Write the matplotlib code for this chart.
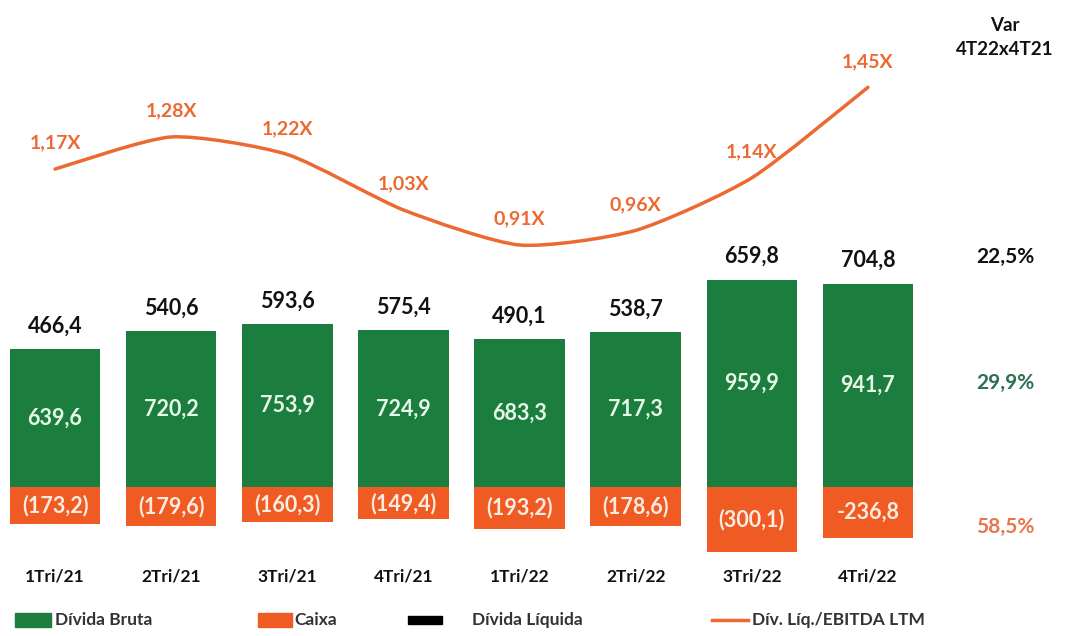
import matplotlib.pyplot as plt
from matplotlib.path import Path
from matplotlib.patches import PathPatch, Rectangle
from matplotlib.lines import Line2D

periods = ["1Tri/21", "2Tri/21", "3Tri/21", "4Tri/21", "1Tri/22", "2Tri/22", "3Tri/22", "4Tri/22"]
divida_bruta = [639.6, 720.2, 753.9, 724.9, 683.3, 717.3, 959.9, 941.7]
caixa = [-173.2, -179.6, -160.3, -149.4, -193.2, -178.6, -300.1, -236.8]
divida_liquida = [466.4, 540.6, 593.6, 575.4, 490.1, 538.7, 659.8, 704.8]
alavancagem = [1.17, 1.28, 1.22, 1.03, 0.91, 0.96, 1.14, 1.45]
var_header = "Var\n4T22x4T21"
var_liquida = "22,5%"
var_bruta = "29,9%"
var_caixa = "58,5%"

GREEN = "#1b7d3e"
ORANGE = "#ef5b23"
LINE = "#ec6a32"

plt.rcParams['font.family'] = ['Lato', 'DejaVu Sans']


def br(v, nd=1):
    return f"{v:.{nd}f}".replace(".", ",")


fig = plt.figure(figsize=(10.7, 6.36), dpi=100)
ax = fig.add_axes([0, 0, 1, 1])
ax.set_xlim(-0.474, 8.74)
ax.set_ylim(-690, 2255)
ax.axis("off")

x = list(range(len(periods)))
ax.bar(x, divida_bruta, width=0.78, color=GREEN, zorder=2)
ax.bar(x, caixa, width=0.78, color=ORANGE, zorder=2)

for i in x:
    ax.text(i, divida_bruta[i] / 2, br(divida_bruta[i]), ha="center", va="center",
            color="#e8f8e8", fontsize=15.5, fontweight="bold", zorder=3)
    # last quarter is printed with a minus sign instead of parentheses
    if i < len(x) - 1:
        ctext = f"({br(-caixa[i])})"
    else:
        ctext = br(caixa[i])
    ax.text(i, caixa[i] / 2, ctext, ha="center", va="center",
            color="#fbece2", fontsize=15.5, fontweight="bold", zorder=3)
    ax.annotate(br(divida_liquida[i]), (i, divida_bruta[i]), xytext=(0, 23),
                textcoords="offset pixels", ha="center", va="center",
                fontsize=15.5, fontweight="bold", color="#111111")
    ax.text(i, -415, periods[i], ha="center", va="center", fontsize=12.5,
            fontweight="bold", color="#111111")

# leverage ratio as a lightly smoothed curve on its own scale
ax2 = ax.twinx()
ax2.set_ylim(-0.429, 1.749)
ax2.axis("off")
pts = list(zip(x, alavancagem))
verts = [pts[0]]
codes = [Path.MOVETO]
n = len(pts)
k = 1 / 9
for i in range(n - 1):
    p0 = pts[i - 1] if i > 0 else pts[i]
    p1 = pts[i]
    p2 = pts[i + 1]
    p3 = pts[i + 2] if i + 2 < n else pts[i + 1]
    c1 = (p1[0] + (p2[0] - p0[0]) * k, p1[1] + (p2[1] - p0[1]) * k)
    c2 = (p2[0] - (p3[0] - p1[0]) * k, p2[1] - (p3[1] - p1[1]) * k)
    verts += [c1, c2, p2]
    codes += [Path.CURVE4] * 3
ax2.add_patch(PathPatch(Path(verts, codes), fill=False, edgecolor=LINE, lw=2.5,
                        capstyle="round", joinstyle="round"))
for i, v in enumerate(alavancagem):
    ax2.annotate(br(v, 2) + "X", (i, v), xytext=(0, 26), textcoords="offset pixels",
                 ha="center", va="center", fontsize=14, fontweight="bold", color=LINE)

# variation column
vx = 8.18
ax.text(vx, 2255 - 38 * 4.63, var_header, ha="center", va="center", fontsize=13.5,
        fontweight="bold", color="#111111", linespacing=1.5)
ax.text(vx, (487 - 257) * 4.63, var_liquida, ha="center", va="center", fontsize=15,
        fontweight="bold", color="#111111")
ax.text(vx, (487 - 383) * 4.63, var_bruta, ha="center", va="center", fontsize=15,
        fontweight="bold", color="#2f6f52")
ax.text(vx, (487 - 527) * 4.63, var_caixa, ha="center", va="center", fontsize=15,
        fontweight="bold", color="#e8744c")

# legend row
W, H = 1070, 636
ly = 1 - 620 / H
fig.patches.append(Rectangle((15 / W, ly - 7 / H), 36 / W, 14 / H, color=GREEN,
                             transform=fig.transFigure))
fig.patches.append(Rectangle((258 / W, ly - 7 / H), 34 / W, 14 / H, color=ORANGE,
                             transform=fig.transFigure))
fig.patches.append(Rectangle((408 / W, ly - 4 / H), 34 / W, 8 / H, color="#000000",
                             transform=fig.transFigure))
fig.lines.append(Line2D([712 / W, 748 / W], [ly, ly], color=LINE, lw=2.5,
                        transform=fig.transFigure))
legend_items = [("Dívida Bruta", 55), ("Caixa", 294), ("Dívida Líquida", 472),
                ("Dív. Líq./EBITDA LTM", 752)]
for label, px in legend_items:
    fig.text(px / W, ly, label, ha="left", va="center", fontsize=12.5,
             fontweight="bold", color="#333333")

fig.savefig("out.png", dpi=100, facecolor="white")
